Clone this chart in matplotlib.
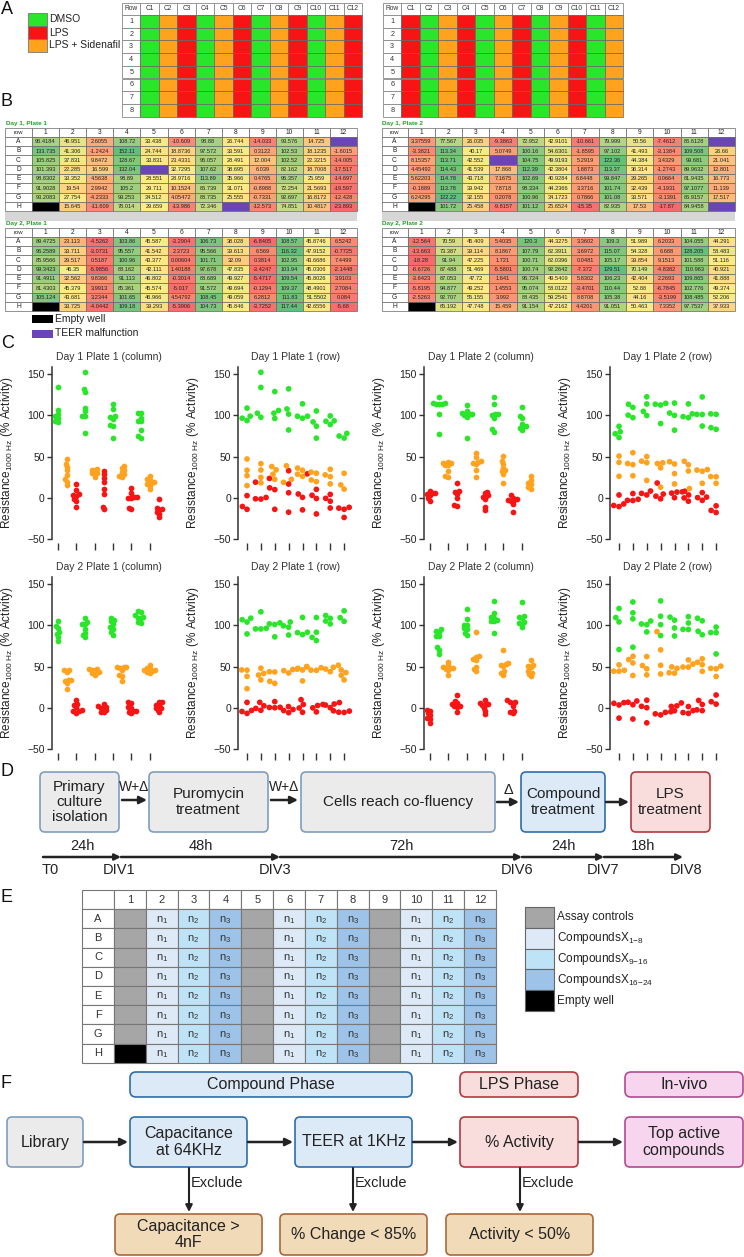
import numpy as np
import matplotlib
matplotlib.use('Agg')
import matplotlib.pyplot as plt
from matplotlib.patches import Rectangle, FancyBboxPatch

plt.rcParams['font.family'] = ['Liberation Sans', 'DejaVu Sans']
plt.rcParams['mathtext.fontset'] = 'custom'
plt.rcParams['mathtext.rm'] = 'Liberation Sans'
plt.rcParams['mathtext.it'] = 'Liberation Sans:italic'

NAN = np.nan
# ---------------------------------------------------------------- data
PLATE_ROWS = list('ABCDEFGH')
PLATE_COLS = list(range(1, 13))
LEGEND_A = ['DMSO', 'LPS', 'LPS + Sidenafil']
PLATE1_LAYOUT = ['DMSO', 'LPS + Sidenafil', 'LPS'] * 4
PLATE2_LAYOUT = ['LPS', 'DMSO', 'LPS + Sidenafil'] * 4

d1p1 = [
    [96.4184, 46.951, 2.6055, 108.72, 33.438, -10.609, 98.88, 26.744, -14.033, 93.576, 14.725, NAN],
    [133.735, 41.306, -1.2424, 152.11, 24.744, 18.8736, 97.572, 33.591, 0.3122, 102.53, 18.1235, -1.6015],
    [105.825, 37.831, 9.8472, 128.67, 33.831, 23.4331, 96.057, 28.491, 12.004, 102.52, 22.3215, -14.005],
    [101.393, 22.285, 16.599, 132.04, NAN, 32.7295, 107.62, 38.695, 6.039, 82.162, 18.7008, -17.517],
    [98.8302, 33.352, 4.5638, 98.89, 28.551, 28.9716, 113.89, 35.966, 0.4765, 96.357, 25.959, -14.697],
    [91.9028, 19.54, 2.9942, 105.2, 29.711, 10.1524, 86.739, 31.071, -0.8988, 72.254, 21.5693, -19.597],
    [93.2083, 27.754, -4.2333, 99.253, 34.512, 4.05472, 88.735, 25.555, -0.7331, 92.697, 16.8172, -12.428],
    [NAN, 15.645, -11.609, 78.014, 29.659, -13.986, 72.346, NAN, -12.573, 74.851, 10.4817, -23.893],
]
d1p2 = [
    [3.37559, 77.567, 26.035, -9.3863, 72.952, 42.9101, -10.661, 79.999, 50.56, -7.4612, 86.6128, NAN],
    [-3.3821, 113.34, 40.17, 5.0749, 100.16, 54.6301, -1.8595, 97.102, 41.493, -3.1384, 109.508, 26.66],
    [8.15357, 113.71, 42.552, NAN, 104.75, 49.9193, 5.2919, 122.36, 44.384, 3.4329, 99.681, 21.041],
    [4.45492, 114.43, 41.539, 17.868, 112.39, 42.3804, 1.8873, 113.37, 36.314, -1.2743, 89.9632, 12.801],
    [5.62203, 114.78, 43.718, 7.1675, 102.69, 40.9284, 6.8448, 99.847, 29.265, 0.0664, 81.9435, 16.773],
    [-0.1889, 113.78, 39.942, 7.8718, 98.334, 44.2366, 3.3716, 101.74, 32.439, -4.1931, 97.1077, 11.139],
    [6.24295, 122.22, 32.155, 0.2078, 100.96, 34.1723, 0.7866, 101.08, 33.571, -3.1391, 86.9157, 17.517],
    [NAN, 101.72, 25.458, -9.8157, 101.12, 25.6524, -15.35, 82.935, 17.53, -17.87, 84.9458, NAN],
]
d2p1 = [
    [89.4725, 23.113, -4.5262, 103.86, 45.587, -3.2904, 106.73, 38.028, -6.8405, 108.57, 45.8746, 6.5242],
    [96.2589, 33.711, -3.0731, 95.557, 41.542, 2.3723, 95.566, 39.613, 6.569, 116.32, 47.9152, -0.7725],
    [85.9566, 29.517, 0.5187, 100.96, 43.377, 0.00604, 101.71, 32.09, 0.3814, 102.95, 43.6686, 7.4499],
    [99.3423, 46.35, -5.9856, 88.162, 42.111, 1.40188, 97.678, 47.835, -3.4247, 103.94, 45.0306, -2.1448],
    [91.4911, 32.562, 9.8366, 91.113, 46.802, -0.3014, 88.689, 49.927, -5.4717, 109.54, 45.8026, 3.9103],
    [81.4303, 45.379, 3.9913, 85.361, 45.574, -5.017, 91.572, 49.694, -0.1294, 109.37, 48.4901, 2.7084],
    [105.124, 43.681, 3.2344, 101.65, 46.966, 4.54792, 108.45, 49.059, 6.2812, 111.83, 51.5502, 0.084],
    [NAN, 33.725, -4.0442, 109.18, 39.293, -5.3906, 104.73, 45.846, -3.7252, 117.44, 42.6556, -5.68],
]
d2p2 = [
    [-12.564, 70.59, 45.409, 5.4035, 120.3, 44.3275, 3.3602, 109.3, 51.989, 6.2033, 104.055, 44.291],
    [-13.663, 73.387, 39.114, 8.1867, 107.79, 62.3911, 3.6972, 115.07, 54.328, 6.688, 128.205, 58.483],
    [-18.28, 91.94, 47.225, 1.721, 100.71, 62.0396, 0.0481, 105.17, 39.854, 9.1513, 101.588, 51.116],
    [-8.6726, 87.488, 51.469, -5.5801, 100.74, 92.2642, -7.372, 129.51, 70.149, -4.8382, 110.963, 40.921],
    [-3.6423, 87.053, 47.72, 1.641, 96.724, 49.5409, 5.8302, 106.23, 42.404, 2.2693, 109.865, 41.888],
    [-5.8195, 94.877, 49.252, 1.4553, 95.074, 58.0122, -3.4701, 110.44, 52.88, -6.7845, 102.776, 49.374],
    [-2.5263, 92.707, 55.155, 3.992, 88.435, 59.2541, 8.8708, 105.38, 44.16, -3.5199, 108.485, 52.206],
    [NAN, 65.192, 47.748, 15.459, 91.154, 47.2162, 4.4201, 91.051, 50.463, 7.3352, 97.7537, 37.933],
]
teer_d1p1 = [('A', 12), ('D', 5), ('H', 8)]
teer_d1p2 = [('A', 12), ('C', 4), ('H', 12)]
empty_wells = [('H', 1)]

Y_TICKS = [-50, 0, 50, 100, 150]
TIMELINE_NODES = ['T0', 'DIV1', 'DIV3', 'DIV6', 'DIV7', 'DIV8']
TIMELINE_HOURS = ['24h', '48h', '72h', '24h', '18h']
E_LAYOUT = ['ctrl', 'n1', 'n2', 'n3'] * 3
E_LEGEND = ['Assay controls', r'CompoundsX$_{\mathregular{1{-}8}}$', r'CompoundsX$_{\mathregular{9{-}16}}$',
            r'CompoundsX$_{\mathregular{16{-}24}}$', 'Empty well']

# ---------------------------------------------------------------- styles
TREAT = {'DMSO': '#2ae62a', 'LPS': '#f71414', 'LPS + Sidenafil': '#ffa31f'}
PURPLE = '#6a45b8'
TXT = '#222222'
W, H = 744, 1257

fig = plt.figure(figsize=(W / 100, H / 100), dpi=100)
bg = fig.add_axes([0, 0, 1, 1])
bg.set_xlim(0, W)
bg.set_ylim(H, 0)
bg.axis('off')


def label(x, y, s):
    bg.text(x, y, s, fontsize=13, ha='left', va='center', color='#111')


# ---------------------------------------------------------------- panel A
label(1, 9, 'A')
for k, name in enumerate(LEGEND_A):
    y = 13 + k * 13
    bg.add_patch(Rectangle((28, y), 19, 13, fc=TREAT[name], ec='#777', lw=0.6))
    bg.text(49, y + 6.5, name, fontsize=7.5, va='center', ha='left', color=TXT)


def plate_A(x0, layout):
    cw, y0, hh, rh = 18.46, 3, 12, 12.7
    heads = ['Row'] + ['C%d' % c for c in PLATE_COLS]
    for k, lab in enumerate(heads):
        bg.add_patch(Rectangle((x0 + k * cw, y0), cw, hh, fc='white', ec='#888', lw=0.6))
        bg.text(x0 + k * cw + cw / 2, y0 + hh / 2, lab, ha='center', va='center', fontsize=4.8, color='#333')
    for i in range(8):
        yy = y0 + hh + i * rh
        bg.add_patch(Rectangle((x0, yy), cw, rh, fc='white', ec='#888', lw=0.6))
        bg.text(x0 + cw / 2, yy + rh / 2, str(i + 1), ha='center', va='center', fontsize=5.2, color='#333')
        for j in range(12):
            bg.add_patch(Rectangle((x0 + (j + 1) * cw, yy), cw, rh, fc=TREAT[layout[j]], ec='#666', lw=0.5))


plate_A(122, PLATE1_LAYOUT)
plate_A(383, PLATE2_LAYOUT)

# ---------------------------------------------------------------- panel B
label(1, 102, 'B')
RED = (0xF8, 0x69, 0x6B)
YEL = (0xFF, 0xEB, 0x84)
GRN = (0x63, 0xBE, 0x7B)


def excel3(v, lo, mid, hi):
    if v <= mid:
        t, a, b = (v - lo) / (mid - lo), RED, YEL
    else:
        t, a, b = (v - mid) / (hi - mid), YEL, GRN
    return tuple((a[k] + (b[k] - a[k]) * t) / 255 for k in range(3))


def heat_table(x0, y0, rcw, cw, rh, vals, teer, title):
    arr = np.array(vals, float)
    fin = arr[~np.isnan(arr)]
    lo, mid, hi = fin.min(), np.percentile(fin, 50), fin.max()
    bg.text(x0 + 1, y0 - 4.2, title, color='#23a023', fontsize=4.6, fontweight='bold', va='center')
    bg.add_patch(Rectangle((x0, y0), rcw, rh, fc='white', ec='#666', lw=0.5))
    bg.text(x0 + rcw / 2, y0 + rh / 2, 'row', ha='center', va='center', fontsize=4.3, color='#222')
    for j in range(12):
        bg.add_patch(Rectangle((x0 + rcw + j * cw, y0), cw, rh, fc='white', ec='#666', lw=0.5))
        bg.text(x0 + rcw + j * cw + cw / 2, y0 + rh / 2, str(PLATE_COLS[j]), ha='center', va='center',
                fontsize=4.8, color='#222')
    for i, r in enumerate(PLATE_ROWS):
        yy = y0 + rh * (i + 1)
        bg.add_patch(Rectangle((x0, yy), rcw, rh, fc='white', ec='#666', lw=0.5))
        bg.text(x0 + rcw / 2, yy + rh / 2, r, ha='center', va='center', fontsize=4.8, color='#222')
        for j in range(12):
            v = arr[i, j]
            xx = x0 + rcw + j * cw
            if (r, j + 1) in empty_wells:
                fc, s = 'black', ''
            elif (r, j + 1) in teer:
                fc, s = PURPLE, ''
            else:
                fc, s = excel3(v, lo, mid, hi), '{:g}'.format(v)
            bg.add_patch(Rectangle((xx, yy), cw, rh, fc=fc, ec='#666', lw=0.5))
            if s:
                bg.text(xx + cw / 2, yy + rh / 2 + 0.3, s, ha='center', va='center', fontsize=4.1, color='#222')


RH_B = 9.3
heat_table(5, 127.5, 27, 27.1, RH_B, d1p1, teer_d1p1, 'Day 1, Plate 1')
heat_table(381.5, 127.5, 26, 27.3, RH_B, d1p2, teer_d1p2, 'Day 1, Plate 2')
bg.add_patch(Rectangle((5, 212), 352, 8.5, fc='#d6d6d6', ec='none'))
bg.add_patch(Rectangle((381.5, 212), 353.5, 8.5, fc='#d6d6d6', ec='none'))
heat_table(5, 227.5, 27, 27.1, RH_B, d2p1, [], 'Day 2, Plate 1')
heat_table(381.5, 227.5, 26, 27.3, RH_B, d2p2, [], 'Day 2, Plate 2')
bg.add_patch(Rectangle((32, 315), 21, 8, fc='black', ec='none'))
bg.text(55, 319, 'Empty well', fontsize=7.5, va='center', color=TXT)
bg.add_patch(Rectangle((32, 329.5), 21, 8, fc=PURPLE, ec='none'))
bg.text(55, 333.5, 'TEER malfunction', fontsize=7.5, va='center', color=TXT)

# ---------------------------------------------------------------- panel C
label(1, 343, 'C')
AX_W, AX_H = 115, 172
YL = (-50, 158.5)
COL_XL = (0.35, 12.84)
ROW_XL = (0.35, 8.64)
LEFTS = [51.7, 238, 423.7, 610]
TOPS = [367, 577]


def swarm(ys_px, d):
    order = np.argsort(ys_px)
    placed = []
    offs = np.zeros(len(ys_px))
    for i in order:
        y = ys_px[i]
        iv = []
        for px, py in placed:
            dy = abs(py - y)
            if dy < d:
                dx = np.sqrt(d * d - dy * dy)
                iv.append((px - dx, px + dx))
        cands = sorted([0.0] + [a for a, b in iv] + [b for a, b in iv], key=lambda c: (abs(c), c))
        for c in cands:
            if all(not (a + 1e-6 < c < b - 1e-6) for a, b in iv):
                offs[i] = c
                break
        placed.append((offs[i], y))
    return offs


def cplot(left, top, data, layout, mode, title):
    ax = fig.add_axes([left / W, 1 - (top + AX_H) / H, AX_W / W, AX_H / H])
    ax.patch.set_visible(False)
    arr = np.array(data, float)
    xl = COL_XL if mode == 'column' else ROW_XL
    ax.set_xlim(*xl)
    ax.set_ylim(*YL)
    ypx = AX_H / (YL[1] - YL[0])
    xpx = AX_W / (xl[1] - xl[0])
    cols = [TREAT[t] for t in layout]
    if mode == 'column':
        for j in range(12):
            ys = arr[:, j]
            ys = ys[~np.isnan(ys)]
            off = swarm(ys * ypx, 3.0) / xpx
            ax.scatter(j + 1 + off, ys, s=17, color=cols[j], lw=0, zorder=3)
        ax.set_xticks(PLATE_COLS[::2])
    else:
        for i in range(8):
            ys = arr[i, :]
            m = ~np.isnan(ys)
            c = [cols[j] for j in range(12) if m[j]]
            ys = ys[m]
            off = swarm(ys * ypx, 5.4) / xpx
            ax.scatter(i + 1 + off, ys, s=17, color=c, lw=0, zorder=3)
        ax.set_xticks(range(1, 9))
    for s in ['top', 'right', 'bottom']:
        ax.spines[s].set_visible(False)
    ax.spines['left'].set_linewidth(1.1)
    ax.spines['left'].set_color('#333')
    ax.spines['bottom'].set_position(('outward', 3))
    ax.set_yticks(Y_TICKS)
    ax.tick_params(axis='y', length=3.5, width=1, color='#333', labelsize=7.5, labelcolor=TXT, pad=1.5)
    ax.tick_params(axis='x', length=5, width=1, color='#333', labelbottom=False)
    ax.set_ylabel(r'Resistance$_{\mathregular{1000\ Hz}}$ (% Activity)', fontsize=8.5, color=TXT)
    ax.yaxis.set_label_coords(-0.32, 0.5)
    bg.text(left + AX_W / 2, top - 10, title, ha='center', va='center', fontsize=7.5, color='#333')


cplot(LEFTS[0], TOPS[0], d1p1, PLATE1_LAYOUT, 'column', 'Day 1 Plate 1 (column)')
cplot(LEFTS[1], TOPS[0], d1p1, PLATE1_LAYOUT, 'row', 'Day 1 Plate 1 (row)')
cplot(LEFTS[2], TOPS[0], d1p2, PLATE2_LAYOUT, 'column', 'Day 1 Plate 2 (column)')
cplot(LEFTS[3], TOPS[0], d1p2, PLATE2_LAYOUT, 'row', 'Day 1 Plate 2 (row)')
cplot(LEFTS[0], TOPS[1], d2p1, PLATE1_LAYOUT, 'column', 'Day 2 Plate 1 (column)')
cplot(LEFTS[1], TOPS[1], d2p1, PLATE1_LAYOUT, 'row', 'Day 2 Plate 1 (row)')
cplot(LEFTS[2], TOPS[1], d2p2, PLATE2_LAYOUT, 'column', 'Day 2 Plate 2 (column)')
cplot(LEFTS[3], TOPS[1], d2p2, PLATE2_LAYOUT, 'row', 'Day 2 Plate 2 (row)')


# ---------------------------------------------------------------- helpers for flow panels
def rbox(x0, y0, x1, y1, fc, ec, text, fs=11, lw=1.2, r=5):
    bg.add_patch(FancyBboxPatch((x0, y0), x1 - x0, y1 - y0, boxstyle='round,pad=0,rounding_size=%g' % r,
                                fc=fc, ec=ec, lw=lw))
    bg.text((x0 + x1) / 2, (y0 + y1) / 2, text, ha='center', va='center', fontsize=fs, color=TXT,
            linespacing=1.1)


def arrow(x0, y0, x1, y1, lw=1.8, ms=11):
    bg.annotate('', xy=(x1, y1), xytext=(x0, y0),
                arrowprops=dict(arrowstyle='-|>', color='#222', lw=lw, mutation_scale=ms,
                                shrinkA=0, shrinkB=0))


GRAY_FC, GRAY_EC = '#ebebeb', '#7f9dbd'
BLUE_FC, BLUE_EC = '#dce9f7', '#2f6eaa'
RED_FC, RED_EC = '#f9dcdc', '#b3383f'
PINK_FC, PINK_EC = '#f7d5ee', '#b04a90'
TAN_FC, TAN_EC = '#f1dab8', '#a8693c'

# ---------------------------------------------------------------- panel D
label(1, 772, 'D')
rbox(40, 772, 119, 832, GRAY_FC, GRAY_EC, 'Primary\nculture\nisolation', fs=11)
rbox(149, 772, 268, 832, GRAY_FC, GRAY_EC, 'Puromycin\ntreatment', fs=11)
rbox(301, 772, 495, 832, GRAY_FC, GRAY_EC, 'Cells reach co-fluency', fs=11)
rbox(521, 772, 605, 832, BLUE_FC, BLUE_EC, 'Compound\ntreatment', fs=11)
rbox(631, 772, 710, 832, RED_FC, RED_EC, 'LPS\ntreatment', fs=11)
arrow(122, 800, 147, 800)
bg.text(134, 787, 'W+Δ', ha='center', va='center', fontsize=10, color=TXT)
arrow(271, 800, 298, 800)
bg.text(284, 787, 'W+Δ', ha='center', va='center', fontsize=10, color=TXT)
arrow(497, 802, 519, 802)
bg.text(509, 790, 'Δ', ha='center', va='center', fontsize=10.5, color=TXT)
arrow(606, 802, 629, 802)

NODE_X = [43, 121, 280, 522, 604, 683]
NODE_LX = [50, 119, 275, 517, 603, 686]
for k in range(5):
    arrow(NODE_X[k], 857, NODE_X[k + 1], 857, lw=1.8, ms=9)
    bg.text((NODE_X[k] + NODE_X[k + 1]) / 2, 846, TIMELINE_HOURS[k], ha='center', va='center',
            fontsize=10.5, color=TXT)
for k in range(6):
    bg.text(NODE_LX[k], 870, TIMELINE_NODES[k], ha='center', va='center', fontsize=10.5, color=TXT)

# ---------------------------------------------------------------- panel E
label(1, 897, 'E')
E_FC = {'ctrl': '#a6a6a6', 'n1': '#dde9f7', 'n2': '#bfe3f6', 'n3': '#9dc3e8'}
ex0, ercw, ecw, ey0, erh = 82, 32, 31.83, 890, 19.2
bg.add_patch(Rectangle((ex0, ey0), ercw, erh, fc='white', ec='#777', lw=0.8))
for j in range(12):
    bg.add_patch(Rectangle((ex0 + ercw + j * ecw, ey0), ecw, erh, fc='white', ec='#777', lw=0.8))
    bg.text(ex0 + ercw + j * ecw + ecw / 2, ey0 + erh / 2, str(PLATE_COLS[j]), ha='center', va='center',
            fontsize=8, color='#333')
for i, r in enumerate(PLATE_ROWS):
    yy = ey0 + erh * (i + 1)
    bg.add_patch(Rectangle((ex0, yy), ercw, erh, fc='white', ec='#777', lw=0.8))
    bg.text(ex0 + ercw / 2, yy + erh / 2, r, ha='center', va='center', fontsize=8, color='#333')
    for j in range(12):
        t = E_LAYOUT[j]
        xx = ex0 + ercw + j * ecw
        fc = 'black' if (r, j + 1) in empty_wells else E_FC[t]
        bg.add_patch(Rectangle((xx, yy), ecw, erh, fc=fc, ec='#777', lw=0.8))
        if t != 'ctrl':
            bg.text(xx + ecw / 2, yy + erh / 2 + 1, r'$\mathregular{n_%s}$' % t[1], ha='center', va='center',
                    fontsize=8, color='#333')
leg_fc = [E_FC['ctrl'], E_FC['n1'], E_FC['n2'], E_FC['n3'], 'black']
for k, name in enumerate(E_LEGEND):
    y = 907 + k * 20.8
    bg.add_patch(Rectangle((525, y), 29, 20.8, fc=leg_fc[k], ec='#666', lw=0.8))
    bg.text(557, y + 10.4, name, fontsize=8.5, va='center', ha='left', color=TXT)

# ---------------------------------------------------------------- panel F
label(1, 1083, 'F')
rbox(130, 1072, 412, 1097, BLUE_FC, BLUE_EC, 'Compound Phase', fs=11.5, r=6)
rbox(460, 1072, 578, 1097, RED_FC, RED_EC, 'LPS Phase', fs=11.5, r=6)
rbox(625, 1072, 743, 1097, PINK_FC, PINK_EC, 'In-vivo', fs=11.5, r=6)
rbox(7, 1117, 83, 1167, GRAY_FC, GRAY_EC, 'Library', fs=11.5)
rbox(130, 1117, 247, 1167, BLUE_FC, BLUE_EC, 'Capacitance\nat 64KHz', fs=11.5)
rbox(295, 1117, 412, 1167, BLUE_FC, BLUE_EC, 'TEER at 1KHz', fs=11.5)
rbox(460, 1117, 578, 1167, RED_FC, RED_EC, '% Activity', fs=11.5)
rbox(625, 1117, 743, 1167, PINK_FC, PINK_EC, 'Top active\ncompounds', fs=11.5)
for xa, xb in [(84, 128), (248, 293), (413, 458), (579, 623)]:
    arrow(xa, 1142, xb, 1142, lw=1.8, ms=11)
for xc in [189, 353, 520]:
    arrow(xc, 1168, xc, 1212, lw=1.5, ms=10)
    bg.text(xc + 2, 1183, 'Exclude', fontsize=10.5, va='center', ha='left', color=TXT)
rbox(115, 1214, 262, 1255, TAN_FC, TAN_EC, 'Capacitance >\n4nF', fs=11.5)
rbox(280, 1214, 427, 1255, TAN_FC, TAN_EC, '% Change < 85%', fs=11.5)
rbox(446, 1214, 593, 1255, TAN_FC, TAN_EC, 'Activity < 50%', fs=11.5)

fig.savefig('out.png', dpi=100)
